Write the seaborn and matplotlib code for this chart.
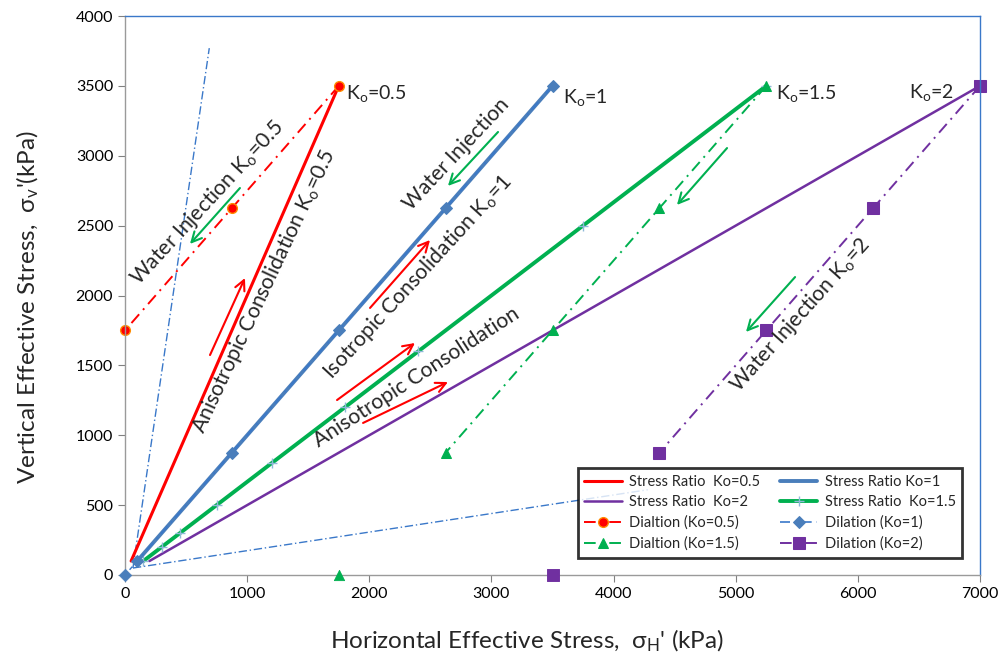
import numpy as np
import pandas as pd
import matplotlib
matplotlib.use("Agg")
import matplotlib.pyplot as plt
import seaborn as sns

# ---------------- data ----------------
sr05_x = [50, 1750]
sr05_y = [100, 3500]
sr1_x = [100, 3500]
sr1_y = [100, 3500]
sr15_x = [150, 300, 450, 750, 1200, 1800, 2400, 3750, 5250]
sr15_y = [100, 200, 300, 500, 800, 1200, 1600, 2500, 3500]
sr2_x = [200, 7000]
sr2_y = [100, 3500]

# dilation paths (connected part) and the isolated end points
dil05_x = [1750, 875, 0]
dil05_y = [3500, 2625, 1750]
dil1_x = [3500, 2625, 1750, 875, 100]
dil1_y = [3500, 2625, 1750, 875, 100]
dil1_end_x = [0]
dil1_end_y = [0]
dil15_x = [5250, 4375, 3500, 2625]
dil15_y = [3500, 2625, 1750, 875]
dil15_end_x = [1750]
dil15_end_y = [0]
dil2_x = [7000, 6125, 5250, 4375]
dil2_y = [3500, 2625, 1750, 875]
dil2_end_x = [3500]
dil2_end_y = [0]

env_steep_x = [65, 690]
env_steep_y = [50, 3770]
env_flat_x = [65, 4280]
env_flat_y = [50, 610]
env_stub_x = [0, 100]
env_stub_y = [0, 100]

x_ticks = [0, 1000, 2000, 3000, 4000, 5000, 6000, 7000]
y_ticks = [0, 500, 1000, 1500, 2000, 2500, 3000, 3500, 4000]

RED = "#FF0000"
BLUE = "#4A7EBB"
DBLUE = "#3A78C9"
GREEN = "#00B050"
PURPLE = "#7030A0"

sns.set_style("ticks")
plt.rcParams["font.family"] = ["Lato", "DejaVu Sans"]
plt.rcParams["mathtext.fontset"] = "custom"
plt.rcParams["mathtext.rm"] = "Lato"
plt.rcParams["mathtext.it"] = "Lato:italic"

fig = plt.figure(figsize=(10.02, 6.63), dpi=100)
ax = fig.add_axes([125 / 1002, 88 / 663, 855 / 1002, 559 / 663])

DD = (0, (6, 3, 1, 3))


def line(x, y, **kw):
    sns.lineplot(x=x, y=y, ax=ax, sort=False, estimator=None, **kw)


def pts(x, y, **kw):
    sns.scatterplot(x=x, y=y, ax=ax, legend=False, **kw)


# envelopes (no legend)
line(env_steep_x, env_steep_y, color=DBLUE, lw=1.0, linestyle=(0, (6, 2, 1, 2)), legend=False)
line(env_flat_x, env_flat_y, color=DBLUE, lw=1.0, linestyle=(0, (6, 2, 1, 2)), legend=False)
line(env_stub_x, env_stub_y, color=DBLUE, lw=1.0, linestyle=(0, (3, 2)), legend=False)

# stress ratio lines
line(sr05_x, sr05_y, color=RED, lw=2.2, label="Stress Ratio  Ko=0.5")
line(sr2_x, sr2_y, color=PURPLE, lw=1.8, label="Stress Ratio  Ko=2")
line(sr15_x, sr15_y, color=GREEN, lw=2.8, marker="+", markersize=7,
     markeredgecolor="#8FB8D8", markeredgewidth=1.0, label="Stress Ratio  Ko=1.5")
line(sr1_x, sr1_y, color=BLUE, lw=2.8, label="Stress Ratio Ko=1")

# dilation series
line(dil1_x, dil1_y, color=DBLUE, lw=1.2, linestyle=DD, marker="D",
     markersize=6, markeredgecolor=BLUE, markerfacecolor=BLUE, label="Dilation (Ko=1)")
pts(dil1_end_x, dil1_end_y, color=BLUE, marker="D", s=40, edgecolor=BLUE, zorder=5, clip_on=False)
line(dil05_x, dil05_y, color=RED, lw=1.4, linestyle=DD, marker="o",
     markersize=7, markeredgecolor="#FF8C00", markeredgewidth=1.0, label="Dialtion (Ko=0.5)")
line(dil15_x, dil15_y, color=GREEN, lw=1.4, linestyle=DD, marker="^",
     markersize=7, markeredgecolor=GREEN, label="Dialtion (Ko=1.5)")
pts(dil15_end_x, dil15_end_y, color=GREEN, marker="^", s=55, edgecolor=GREEN, zorder=5, clip_on=False)
line(dil2_x, dil2_y, color=PURPLE, lw=1.4, linestyle=DD, marker="s",
     markersize=8, markeredgecolor=PURPLE, label="Dilation (Ko=2)")
pts(dil2_end_x, dil2_end_y, color=PURPLE, marker="s", s=70, edgecolor=PURPLE, zorder=5, clip_on=False)

for ln in ax.lines:
    ln.set_clip_on(False)

ax.set_xlim(0, 7000)
ax.set_ylim(0, 4000)
ax.set_xticks(x_ticks)
ax.set_yticks(y_ticks)
ax.tick_params(axis="both", labelsize=11.5, colors="#808080", length=5, width=0.8,
               labelcolor="black")

for s in ["left", "bottom"]:
    ax.spines[s].set_color("#9A9A9A")
    ax.spines[s].set_linewidth(1.0)
for s in ["top", "right"]:
    ax.spines[s].set_color(DBLUE)
    ax.spines[s].set_linewidth(1.0)

ax.set_xlabel(r"Horizontal Effective Stress,  σ$_\mathrm{H}$' (kPa)", fontsize=17.5)
ax.set_ylabel(r"Vertical Effective Stress,  σ$_\mathrm{v}$'(kPa)", fontsize=17.5)
ax.xaxis.set_label_coords(0.47, -0.094)
ax.yaxis.set_label_coords(-0.098, 0.48)

# legend
h, l = ax.get_legend_handles_labels()
hd = dict(zip(l, h))
order = ["Stress Ratio  Ko=0.5", "Stress Ratio  Ko=2", "Dialtion (Ko=0.5)", "Dialtion (Ko=1.5)",
         "Stress Ratio Ko=1", "Stress Ratio  Ko=1.5", "Dilation (Ko=1)", "Dilation (Ko=2)"]
leg = ax.legend([hd[k] for k in order], order, ncol=2, loc="lower right",
                bbox_to_anchor=(0.988, 0.018), fontsize=10.5, frameon=True, fancybox=False,
                handlelength=2.6, columnspacing=1.3, labelspacing=0.45, borderpad=0.45,
                handletextpad=0.5)
leg.get_frame().set_edgecolor("black")
leg.get_frame().set_linewidth(2.0)
leg.set_zorder(10)

# point labels
kw = dict(fontsize=14, va="center", ha="left")
ax.text(1809, 3449, r"K$_\mathrm{o}$=0.5", **kw)
ax.text(3586, 3420, r"K$_\mathrm{o}$=1", **kw)
ax.text(5330, 3449, r"K$_\mathrm{o}$=1.5", **kw)
ax.text(6419, 3456, r"K$_\mathrm{o}$=2", **kw)

# rotated path labels
rk = dict(fontsize=15.2, ha="center", va="center", rotation_mode="anchor")
ax.text(675, 2662, r"Water Injection K$_\mathrm{o}$=0.5", rotation=47.3, **rk)
ax.text(1138, 2029, r"Anisotropic Consolidation K$_\mathrm{o}$=0.5", rotation=64.9, **rk)
ax.text(2709, 3012, "Water Injection", rotation=46.9, **rk)
ax.text(2400, 2134, r"Isotropic Consolidation K$_\mathrm{o}$=1", rotation=47.5, **rk)
ax.text(2387, 1413, "Anisotropic Consolidation", rotation=32.9, **rk)
ax.text(5527, 1860, r"Water Injection K$_\mathrm{o}$=2", rotation=48.2, **rk)

# arrows
red_arrows = [((696, 1574), (982, 2125)), ((2006, 1911), (2497, 2397)),
              ((1736, 1252), (2374, 1660)), ((1949, 1088), (2644, 1381))]
green_arrows = [((941, 2769), (532, 2369)), ((3054, 3170), (2644, 2784)),
                ((4929, 3055), (4519, 2648)), ((5486, 2132), (5084, 1739))]
for (s, e) in red_arrows:
    ax.annotate("", xy=e, xytext=s,
                arrowprops=dict(arrowstyle="->", color=RED, lw=1.5, mutation_scale=18,
                                shrinkA=0, shrinkB=0))
for (s, e) in green_arrows:
    ax.annotate("", xy=e, xytext=s,
                arrowprops=dict(arrowstyle="->", color=GREEN, lw=1.5, mutation_scale=18,
                                shrinkA=0, shrinkB=0))

fig.savefig("out.png", dpi=100)
